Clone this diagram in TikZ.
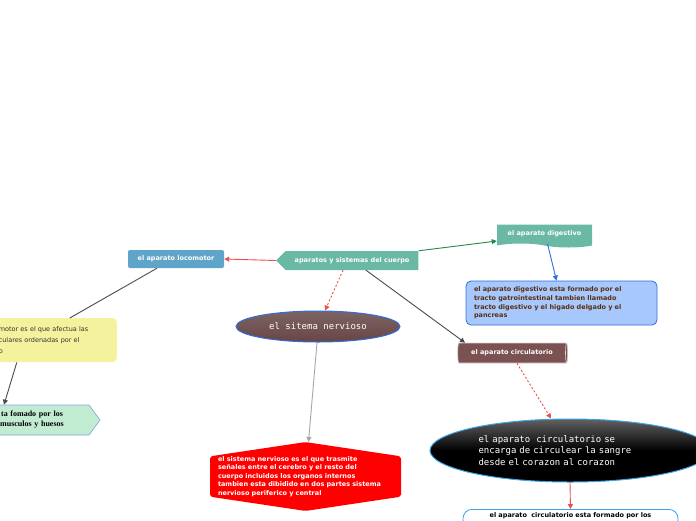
\documentclass[tikz,border=0pt]{standalone}
\usepackage{fontspec}
\usepackage{xcolor}
\usepackage{tikz}
\usetikzlibrary{arrows.meta,positioning,shapes.geometric,shapes.symbols}
\newfontfamily\mmsans{DejaVu Sans}
\newfontfamily\mmmono{DejaVu Sans Mono}
\newfontfamily\mmserif{Liberation Serif}
\definecolor{mmteal}{HTML}{6AB9A4}
\definecolor{mmblue}{HTML}{5FA5C9}
\definecolor{mmsky}{HTML}{A7C8FD}
\definecolor{mmline}{HTML}{2F6FDC}
\definecolor{mmcyan}{HTML}{3AA4E8}
\definecolor{mmbrown}{HTML}{5A2E0E}
\definecolor{mmred}{HTML}{E8504A}
\definecolor{mmgreen}{HTML}{1F8A4C}
\definecolor{mmdark}{HTML}{4A4A4A}
\definecolor{mmcyl}{HTML}{7B5151}
\definecolor{mmyellow}{HTML}{F4F29C}
\definecolor{mmmint}{HTML}{C2ECD2}
\definecolor{mmedge}{HTML}{7AA8E0}

\begin{document}
\begin{tikzpicture}[x=1pt, y=1pt,
  sans/.style={font=\mmsans\bfseries\fontsize{6.5}{8.6}\selectfont},
  mono/.style={font=\mmmono\fontsize{9}{11.5}\selectfont, text=white},
  topic/.style={sans, text=white, inner sep=0pt},
  note/.style={sans, align=left, inner xsep=8pt, inner ysep=4pt},
  arr/.style={-{Triangle[length=5pt,width=5pt]}, line width=0.9pt},
  dsh/.style={arr, dash pattern=on 2pt off 2pt}]
  \useasboundingbox (0,0) rectangle (696,-520);
  \clip (0,0) rectangle (696,-520);
  \fill[white] (0,0) rectangle (696,-520);
  \node[topic, signal, signal to=west, signal pointer angle=90, fill=mmteal, minimum height=19pt, inner xsep=9pt] (cuerpo) at (352,-260.5) {aparatos y sistemas del cuerpo};
  \node[topic, fill=mmblue, rounded corners=2pt, minimum width=96pt, minimum height=18pt] (locomotor) at (176,-259) {el aparato locomotor};
  \node[topic, tape, tape bend top=none, tape bend bottom=out and in, tape bend height=4pt, fill=mmteal, minimum width=95pt, minimum height=23pt] (digestivo) at (544.5,-234) {el aparato digestivo};
  \node[note, text=mmbrown, fill=mmsky, draw=mmline, line width=0.8pt, rounded corners=5pt, text width=175pt, minimum height=44pt] (digdesc) at (561.5,-303) {el aparato digestivo esta formado por el\\tracto gatrointestinal tambien llamado\\tracto digestivo y el higado delgado y el\\pancreas};
  \node[ellipse, mono, top color=black!25!mmcyl!80!white, bottom color=mmcyl!85!black, draw=mmline, line width=1pt, minimum width=164pt, minimum height=31pt] (nervioso) at (318,-326.5) {el sitema nervioso};
  \node[note, text=white, signal, signal to=north and south, signal pointer angle=163, fill=red, rounded corners=2pt, text width=175pt, inner ysep=0pt, font=\mmsans\bfseries\fontsize{6.5}{8.5}\selectfont] (nerdesc) at (305.5,-476.5) {el sistema nervioso es el que trasmite\\señales entre el cerebro y el resto del\\cuerpo incluidos los organos internos\\tambien esta dibidido en dos partes sistema\\nervioso periferico y central};
  \node[topic, cylinder, shape aspect=0.35, fill=mmcyl, draw=white!75!mmcyl, line width=0.6pt, minimum height=110pt, minimum width=20pt] (circul) at (512,-353) {el aparato circulatorio};
  \node[ellipse, mono, align=left, text width=183pt, top color=black!62!white, bottom color=black, middle color=black, draw=mmcyan, line width=1pt, minimum width=280pt, minimum height=63pt] (circell) at (570,-450.5) {el aparato\ \ circulatorio se\\encarga de circulear la sangre\\desde el corazon al corazon};
  \node[sans, anchor=north, fill=white, draw=mmcyan, line width=0.8pt, rounded corners=9pt, text width=195pt, minimum width=215pt, align=center, inner ysep=3pt] (circdesc) at (570.5,-509) {el aparato\ \ circulatorio esta formado por los\\ \mbox{}};
  \node[anchor=north east, fill=mmyellow, rounded corners=4pt, align=left, text width=110pt, inner xsep=8pt, text=black!80, minimum height=44pt, font=\mmsans\fontsize{6.5}{11}\selectfont] (locdesc) at (117,-318) {motor es el que afectua las\\culares ordenadas por el\\o};
  \node[signal, signal to=east, signal pointer angle=107, fill=mmmint, draw=mmedge, line width=0.6pt, align=center, text width=106pt, inner xsep=4pt, minimum height=30pt, font=\mmserif\bfseries\fontsize{8}{10}\selectfont] (locparts) at (32,-420) {ta fomado por los\\musculos y huesos};
  \draw[arr, mmred] (cuerpo.west) -- (locomotor.east);
  \draw[arr, mmgreen] (cuerpo.north east) -- ([yshift=-7pt]digestivo.west);
  \draw[arr, mmline] ([xshift=3pt]digestivo.south) -- ([xshift=-5pt]digdesc.north);
  \draw[dsh, mmred] ([xshift=-9pt]cuerpo.south) -- ([xshift=7pt]nervioso.north);
  \draw[arr, mmdark] ([xshift=14pt]cuerpo.south) -- ([xshift=-47pt]circul.north);
  \draw[line width=0.9pt, mmdark] ([xshift=-19pt]locomotor.south) -- ([xshift=16pt]locdesc.north);
  \draw[arr, mmdark] ([xshift=-37pt]locdesc.south) -- ([xshift=-28pt]locparts.north);
  \draw[arr, black!35] ([xshift=-1pt]nervioso.south) -- ([xshift=3pt]nerdesc.north);
  \draw[dsh, mmred] ([xshift=5pt]circul.south) -- ([xshift=-19pt]circell.north);
  \draw[arr, mmred] (circell.south) -- (circdesc.north);
\end{tikzpicture}
\end{document}
